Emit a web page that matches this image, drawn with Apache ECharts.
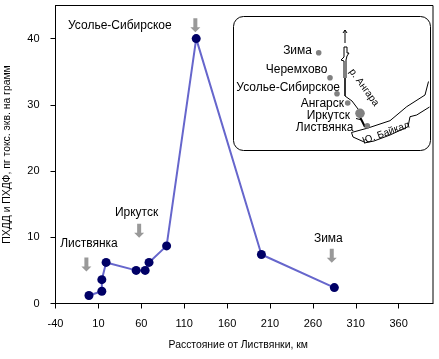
<!DOCTYPE html>
<html><head><meta charset="utf-8">
<style>html,body{margin:0;padding:0;background:#fff}#c{width:439px;height:359px}</style>
<script src="https://cdn.jsdelivr.net/npm/echarts@6/dist/echarts.min.js"></script>
</head><body><div id="c"></div>
<script>
const distanceKm = [-1, 14, 14, 19, 54, 64.5, 69, 89.5, 124, 200, 285];
const pcddValues = [1.2, 1.85, 3.6, 6.2, 5, 5, 6.2, 8.7, 40, 7.4, 2.4];
const xTicks = [-40, 10, 60, 110, 160, 210, 260, 310, 360];
const yTicks = [0, 10, 20, 30, 40];
const placeNames = ['Усолье-Сибирское', 'Иркутск', 'Листвянка', 'Зима'];
const placeLabelX = [35, 54.5, -1, 278];
const placeLabelY = [41.9, 13.7, 9, 9.8];
const arrowX = [123, 57.5, -4, 282];
const arrowY = [42, 11, 5.9, 7.2];
const font = '"Liberation Sans", Arial, sans-serif';
const txt = '#000';

const mapLabels = [
  ['Зима', 312, 51], ['Черемхово', 327.5, 69.5], ['Усолье-Сибирское', 340, 87.5],
  ['Ангарск', 344, 103.5], ['Иркутск', 350, 116], ['Листвянка', 353.5, 128]
];
const mapDots = [[318.7, 52.7, 2.8], [330, 77.7, 2.8], [337, 93.7, 2.8], [347.7, 103, 2.8], [360, 113.3, 4.8], [367.3, 125.7, 2.8]];
const poly = (points, lineWidth, z) => ({ type: 'polyline', silent: true, z: z || 20, shape: { points }, style: { stroke: '#000', lineWidth: lineWidth || 1, fill: null } });
const graphic = [
  { type: 'rect', silent: true, z: 19, shape: { x: 233.5, y: 16.5, width: 197, height: 134, r: 10 }, style: { fill: '#fff', stroke: '#000', lineWidth: 1 } },
  poly([[345, 43], [345, 30]]), poly([[343, 33], [345, 30], [347, 33]]),
  poly([[344, 47], [347, 47], [347, 53], [349, 53], [347, 56], [346, 60], [346, 78]]),
  poly([[344, 47], [344, 57], [341, 60], [344, 61], [344, 78]]),
  poly([[345, 78], [345, 96]], 1.6),
  poly([[345, 96], [352, 101], [358, 109]]),
  poly([[360, 117], [365, 127]], 2),
  poly([[356, 118.5], [362, 120]]),
  poly([[351.5, 132.5], [368, 128], [390, 120.7], [398, 114], [406.7, 106.7], [425, 95], [428.5, 81.5]]),
  poly([[351.5, 132.5], [353, 137], [365.7, 142.7], [374, 141], [390, 135], [408, 126.7], [410, 116.7], [416.7, 115], [429.5, 107]]),
  ...mapDots.map(d => ({ type: 'circle', silent: true, z: 21, shape: { cx: d[0], cy: d[1], r: d[2] }, style: { fill: '#808080' } })),
  ...mapLabels.map(l => ({ type: 'text', silent: true, z: 22, x: l[1], y: l[2], style: { text: l[0], font: '12px ' + font, fill: txt, align: 'right', verticalAlign: 'middle' } })),
  { type: 'text', silent: true, z: 22, x: 364, y: 87.5, rotation: -54 * Math.PI / 180, style: { text: 'р. Ангара', font: '10px ' + font, fill: txt, align: 'center', verticalAlign: 'middle' } },
  { type: 'text', silent: true, z: 22, x: 386, y: 133, rotation: 20 * Math.PI / 180, style: { text: 'Ю. Байкал', font: '10px ' + font, fill: txt, align: 'center', verticalAlign: 'middle' } }
];
const arrowPath = 'path://M3,0 H7 V9 H10 L5,14 L0,9 H3 Z';

const chart = echarts.init(document.getElementById('c'), null, { renderer: 'canvas' });
chart.setOption({
  animation: false,
  backgroundColor: '#fff',
  grid: { left: 55.5, right: 6, top: 5.5, bottom: 55.5, outerBoundsMode: 'none', containLabel: false, show: true, borderColor: '#000', borderWidth: 1, backgroundColor: 'transparent' },
  xAxis: {
    type: 'value', min: -40, max: 400, interval: 50,
    name: 'Расстояние от Листвянки, км', nameLocation: 'middle', nameGap: 37,
    nameTextStyle: { fontFamily: font, fontSize: 10.4, color: txt, padding: [0, 12, 0, 0] },
    axisLine: { onZero: false, lineStyle: { color: '#000' } },
    axisTick: { length: 5, lineStyle: { color: '#000' }, customValues: xTicks },
    axisLabel: { customValues: xTicks, fontFamily: font, fontSize: 11, color: txt, margin: 15 },
    splitLine: { show: false }
  },
  yAxis: {
    type: 'value', min: 0, max: 45, interval: 10,
    name: 'ПХДД и ПХДФ, пг токс. экв. на грамм', nameLocation: 'middle', nameGap: 43,
    nameTextStyle: { fontFamily: font, fontSize: 10.4, color: txt },
    axisLine: { onZero: false, lineStyle: { color: '#000' } },
    axisTick: { length: 5, lineStyle: { color: '#000' }, customValues: yTicks },
    axisLabel: { customValues: yTicks, fontFamily: font, fontSize: 11, color: txt, margin: 16 },
    splitLine: { show: false }
  },
  series: [
    {
      type: 'line', data: distanceKm.map((x, i) => [x, pcddValues[i]]),
      symbol: 'circle', symbolSize: 9, showAllSymbols: true,
      lineStyle: { color: '#6666cc', width: 2 },
      itemStyle: { color: '#000066', borderWidth: 0 }, z: 5
    },
    {
      type: 'scatter', data: arrowX.map((x, i) => [x, arrowY[i]]),
      symbol: arrowPath, symbolSize: [10, 14], itemStyle: { color: '#999999', opacity: 1 }, z: 4
    },
    {
      type: 'scatter', data: placeNames.map((n, i) => ({ value: [placeLabelX[i], placeLabelY[i]], name: n })),
      symbolSize: 1, itemStyle: { color: 'transparent', opacity: 1 }, z: 6,
      label: { show: true, position: 'inside', formatter: p => p.name, fontFamily: font, fontSize: 12, color: txt, opacity: 1 }
    }
  ],
  graphic
});
</script></body></html>
